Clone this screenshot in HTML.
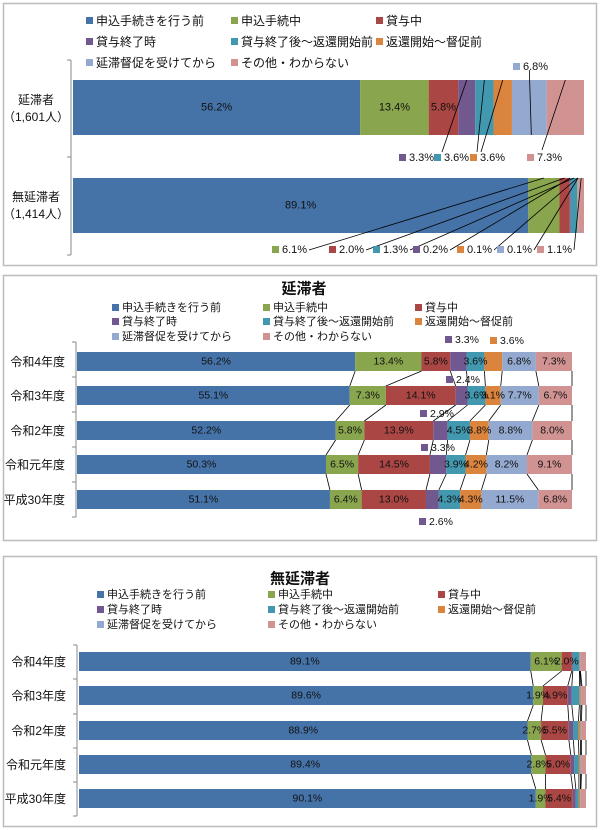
<!DOCTYPE html>
<html><head><meta charset="utf-8"><style>
body{margin:0;background:#fff}
svg{display:block;font-family:"Liberation Sans","Noto Sans CJK JP",sans-serif}
</style></head><body>
<svg id="c" width="600" height="830" viewBox="0 0 600 830"></svg>
<script>
const seriesNames=["申込手続きを行う前","申込手続中","貸与中","貸与終了時","貸与終了後～返還開始前","返還開始～督促前","延滞督促を受けてから","その他・わからない"];
const colors=["#4572A7","#89A54E","#AA4643","#71588F","#4198AF","#DB843D","#93A9CF","#D19392"];
const p1Categories=["延滞者","無延滞者"];
const p1Counts=["（1,601人）","（1,414人）"];
const p1Delinquent=[56.2,13.4,5.8,3.3,3.6,3.6,6.8,7.3];
const p1NonDelinquent=[89.1,6.1,2.0,0.2,1.3,0.1,0.1,1.1];
const yearCategories=["令和4年度","令和3年度","令和2年度","令和元年度","平成30年度"];
const p2R4=[56.2,13.4,5.8,3.3,3.6,3.6,6.8,7.3];
const p2R3=[55.1,7.3,14.1,2.4,3.6,3.1,7.7,6.7];
const p2R2=[52.2,5.8,13.9,2.9,4.5,3.8,8.8,8.0];
const p2R1=[50.3,6.5,14.5,3.3,3.9,4.2,8.2,9.1];
const p2H30=[51.1,6.4,13.0,2.6,4.3,4.3,11.5,6.8];
const p3R4=[89.1,6.1,2.0,0.2,1.3,0.1,0.1,1.1];
const p3R3=[89.6,1.9,4.9,0.8,1.5,0.3,0.2,0.8];
const p3R2=[88.9,2.7,5.5,0.9,1.0,0.4,0.2,0.9];
const p3R1=[89.4,2.8,5.0,0.7,0.9,0.3,0.2,0.9];
const p3H30=[90.1,1.9,5.4,0.6,0.6,0.3,0.1,1.0];

const svg=document.getElementById('c');
const NS="http://www.w3.org/2000/svg";
function mk(tag,attrs,parent){const e=document.createElementNS(NS,tag);for(const k in attrs)e.setAttribute(k,attrs[k]);(parent||svg).appendChild(e);return e;}
function txt(x,y,s,size,anchor,weight,name){const t=mk('text',{x:x,y:y,'font-size':size,'text-anchor':anchor||'start','dominant-baseline':'central',fill:'#111','font-weight':weight||'normal'});t.textContent=s;

return t;}
function fmt(v){return v.toFixed(1)+'%';}

function panel(y0,y1,name){const r=mk('rect',{x:3.5,y:y0+0.5,width:593,height:y1-y0,fill:'#fff',stroke:'#bcbcbc','stroke-width':1.5});

}
function legend(xs,ys,size,prefix){seriesNames.forEach((n,i)=>{const x=xs[i%3],y=ys[Math.floor(i/3)];
const m=mk('rect',{x:x,y:y-4,width:7,height:7,fill:colors[i]});


txt(x+10,y,n,size,'start','normal',prefix+'-legend-entry');});}
function axis(x,yt,yb,ticks){mk('line',{x1:x,y1:yt,x2:x,y2:yb,stroke:'#888'});ticks.forEach(t=>mk('line',{x1:x-4,y1:t,x2:x,y2:t,stroke:'#888'}));}

function stack(vals,x0,x1,y,h,name){const tot=vals.reduce((a,b)=>a+b,0);const sc=v=>(x1-x0)*v/tot;let c=x0;const segs=[];
vals.forEach((v,i)=>{const w=sc(v);const r=mk('rect',{x:c,y:y,width:w,height:h,fill:colors[i]});


segs.push({x:c,w:w,end:c+w});c+=w;});return segs;}
function inLabels(segs,vals,y,h,idx,size){idx.forEach(i=>txt(segs[i].x+segs[i].w/2,y+h/2,fmt(vals[i]),size,'middle','normal','value-label'));}
function outLabel(mx,my,i,v,size){const m=mk('rect',{x:mx,y:my-4,width:7,height:7,fill:colors[i]});


txt(mx+10,my,fmt(v),size,'start','normal','callout-label');}
function line(x1,y1,x2,y2){mk('line',{x1:x1,y1:y1,x2:x2,y2:y2,stroke:'#000','stroke-width':0.8});}

/* Panel 1 */
panel(3,265,'panel-overview');
legend([86,231,376],[21,42,63],12,'p1');
axis(71,60,255,[60,157,255]);
const b1=stack(p1Delinquent,73,584,80,55,'delinquent-bar');
const b2=stack(p1NonDelinquent,73,584,178,55,'nondelinquent-bar');
inLabels(b1,p1Delinquent,80,55,[0,1,2],11);
inLabels(b2,p1NonDelinquent,178,55,[0],11);
[[100,117],[197,214]].forEach((p,k)=>{txt(36,p[0],p1Categories[k],12,'middle','normal','category-label');txt(36,p[1],p1Counts[k],12,'middle','normal','count-label');});
// bar1 callouts
const c1=[[3,399,158,442,152],[4,434,158,477,152],[5,470,158,481,152],[7,527,158,542,150]];
c1.forEach(a=>{outLabel(a[1],a[2],a[0],p1Delinquent[a[0]],11);const s=b1[a[0]];line(s.x+s.w/2,80,a[3],a[4]);});
outLabel(513,67,6,p1Delinquent[6],11);line(b1[6].x+b1[6].w/2,70,b1[6].x+b1[6].w/2+2,135);
// bar2 callouts
const c2=[[1,272],[2,329],[4,373],[3,413],[5,457],[6,497],[7,537]];
c2.forEach(a=>{outLabel(a[1],250,a[0],p1NonDelinquent[a[0]],11);const s=b2[a[0]];line(a[1]+37,250,s.x+s.w/2,178);});

/* Panel 2 */
panel(275,540,'panel-delinquent');
txt(304,289,'延滞者',15,'middle','bold','p2-title');
legend([112,263,415],[308,322,337],11,'p2');
const p2Data=[p2R4,p2R3,p2R2,p2R1,p2H30];
const p2Y=[352,386,421,455,490];
axis(76,342,517,[342,377,412,447,482,517]);
const p2Segs=p2Data.map((d,k)=>stack(d,77,572,p2Y[k],19,'p2-bar-'+k));
p2Data.forEach((d,k)=>{txt(65,p2Y[k]+10,yearCategories[k],12,'end','normal','p2-category');
inLabels(p2Segs[k],d,p2Y[k],19,k==0?[0,1,2,4,6,7]:[0,1,2,4,5,6,7],10.5);});
for(let k=0;k<4;k++)for(let i=0;i<8;i++)line(p2Segs[k][i].end,p2Y[k]+19,p2Segs[k+1][i].end,p2Y[k+1]);
outLabel(445,340,3,p2R4[3],10.5);outLabel(490,341,5,p2R4[5],10.5);
outLabel(446,380,3,p2R3[3],10.5);outLabel(420,414,3,p2R2[3],10.5);
outLabel(421,448,3,p2R1[3],10.5);outLabel(419,522,3,p2H30[3],10.5);

/* Panel 3 */
panel(556,826,'panel-nondelinquent');
txt(300,579,'無延滞者',15,'middle','bold','p3-title');
legend([97,268,438],[595,610,625],11,'p3');
const p3Data=[p3R4,p3R3,p3R2,p3R1,p3H30];
const p3Y=[652,686,721,755,789];
axis(77,645,816,[645,679,714,748,782,816]);
const p3Segs=p3Data.map((d,k)=>stack(d,79,586,p3Y[k],19,'p3-bar-'+k));
p3Data.forEach((d,k)=>{txt(66,p3Y[k]+10,yearCategories[k],12,'end','normal','p3-category');
inLabels(p3Segs[k],d,p3Y[k],19,[0,1,2],10.5);});
for(let k=0;k<4;k++)for(let i=0;i<8;i++)line(p3Segs[k][i].end,p3Y[k]+19,p3Segs[k+1][i].end,p3Y[k+1]);
</script>
</body></html>
